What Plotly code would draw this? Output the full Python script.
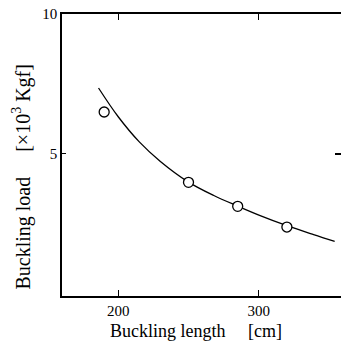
import plotly.graph_objects as go

# measured points
meas_x = [190, 250, 285, 320]
meas_y = [6.49, 3.97, 3.11, 2.37]

# theoretical curve
curve_x = [186, 200, 215, 230, 250, 268, 285, 301, 320, 339, 354]
curve_y = [7.35, 6.32, 5.42, 4.72, 3.98, 3.50, 3.12, 2.78, 2.42, 2.10, 1.86]

x_ticks = [200, 300]
y_ticks = [5, 10]
x_range = [160, 358.5]
y_range = [-0.1, 10]

FONT = "Liberation Serif"

fig = go.Figure()
fig.add_trace(go.Scatter(x=curve_x, y=curve_y, mode="lines",
                         line=dict(color="black", width=1.3, shape="spline", smoothing=1.0),
                         showlegend=False, hoverinfo="skip"))
fig.add_trace(go.Scatter(x=meas_x, y=meas_y, mode="markers",
                         marker=dict(symbol="circle", size=10, color="white",
                                     line=dict(color="black", width=1.3)),
                         showlegend=False))
# invisible trace to carry the right-hand tick axis
fig.add_trace(go.Scatter(x=[x_range[0]], y=[y_range[0]], yaxis="y2", mode="markers",
                         marker=dict(opacity=0), showlegend=False, hoverinfo="skip"))

fig.update_layout(
    width=341, height=350,
    margin=dict(l=62, r=0, t=14, b=54),
    paper_bgcolor="white", plot_bgcolor="white",
    font=dict(family=FONT, size=15, color="black"),
    xaxis=dict(range=x_range, tickvals=x_ticks, ticktext=[str(v) for v in x_ticks],
               ticks="inside", ticklen=6, tickwidth=1, tickcolor="black",
               showline=True, linecolor="black", linewidth=1.6, mirror="ticks",
               showgrid=False, zeroline=False,
               tickfont=dict(family=FONT, size=15)),
    yaxis=dict(range=y_range, tickvals=y_ticks, ticktext=[str(v) for v in y_ticks],
               ticks="inside", ticklen=4, tickwidth=1, tickcolor="black",
               showline=True, linecolor="black", linewidth=1.5,
               showgrid=False, zeroline=False,
               tickfont=dict(family=FONT, size=15)),
    yaxis2=dict(range=y_range, overlaying="y", side="right", tickvals=[5],
                ticks="inside", ticklen=6, tickwidth=1.5, tickcolor="black",
                showticklabels=False, showline=False, showgrid=False, zeroline=False),
    annotations=[
        dict(text="Buckling length\u2003 [cm]", xref="paper", yref="paper",
             x=0.48, y=0, yshift=-23, xanchor="center", yanchor="top", showarrow=False,
             font=dict(family=FONT, size=18)),
        dict(text="Buckling load\u2003 [×10<sup>3</sup> Kgf]", xref="paper", yref="paper",
             x=0, xshift=-40, y=0.42, xanchor="center", yanchor="middle", textangle=-90,
             showarrow=False, font=dict(family=FONT, size=20)),
    ],
)

fig.write_html("out.html")
